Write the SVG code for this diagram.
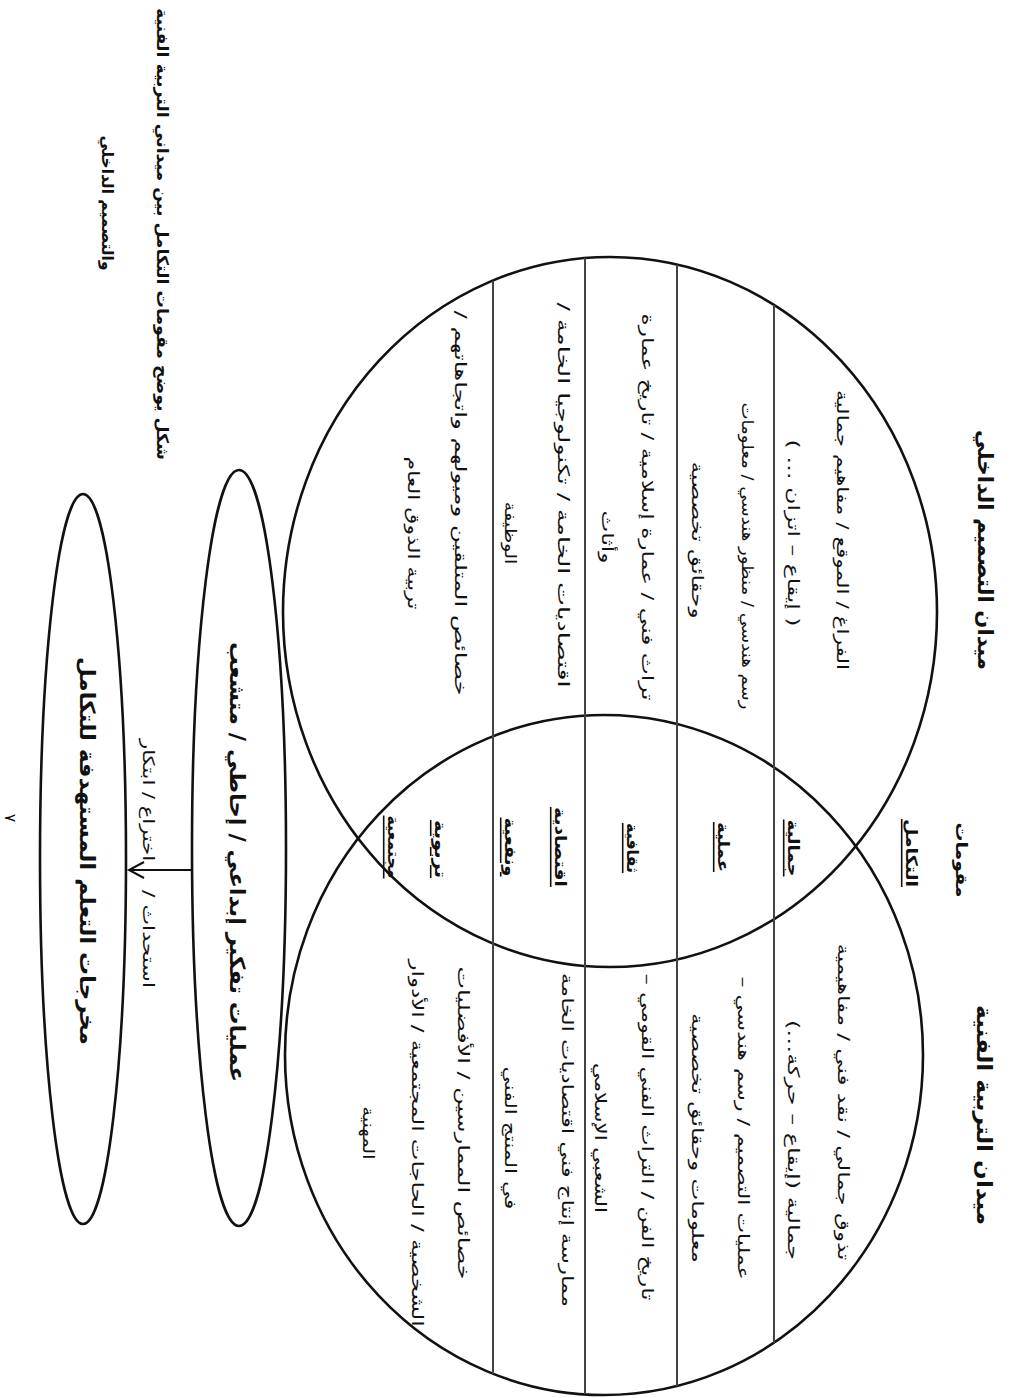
<svg xmlns="http://www.w3.org/2000/svg" width="1017" height="1398" viewBox="0 0 1017 1398">
<style>
.t{font-family:"DejaVu Sans",sans-serif;font-size:16px;fill:#111;direction:rtl}
.b{font-weight:bold}
.h{font-size:21px;font-weight:bold}
.u{text-decoration:underline}
.shape{fill:none;stroke:#111;stroke-width:2.6}
.row{stroke:#444;stroke-width:2}
.conn{fill:none;stroke:#111;stroke-width:2}
</style>
<rect width="1017" height="1398" fill="#fff"/>

<g id="caption">
<text class="t b" font-size="14" transform="translate(162,234) rotate(90)" text-anchor="middle" dominant-baseline="central" textLength="452" lengthAdjust="spacingAndGlyphs">شكل يوضح مقومات التكامل بين ميداني التربية الفنية</text>
<text class="t b" font-size="14" transform="translate(107,203) rotate(90)" text-anchor="middle" dominant-baseline="central" textLength="135" lengthAdjust="spacingAndGlyphs">والتصميم الداخلي</text>
</g>

<g id="interior-design-field">
<ellipse class="shape" cx="610" cy="612" rx="327" ry="355"/>
<text class="t h" transform="translate(985,550) rotate(90)" text-anchor="middle" dominant-baseline="central" textLength="240" lengthAdjust="spacingAndGlyphs">ميدان التصميم الداخلي</text>
<text class="t" transform="translate(842,530) rotate(90)" text-anchor="middle" dominant-baseline="central" textLength="280" lengthAdjust="spacingAndGlyphs">الفراغ / الموقع / مفاهيم جمالية</text>
<text class="t" transform="translate(793,533) rotate(90)" text-anchor="middle" dominant-baseline="central" textLength="187" lengthAdjust="spacingAndGlyphs">( إيقاع – اتزان … )</text>
<text class="t" transform="translate(747,556) rotate(90)" text-anchor="middle" dominant-baseline="central" textLength="307" lengthAdjust="spacingAndGlyphs">رسم هندسي / منظور هندسي / معلومات</text>
<text class="t" transform="translate(697,540) rotate(90)" text-anchor="middle" dominant-baseline="central" textLength="157" lengthAdjust="spacingAndGlyphs">وحقائق تخصصية</text>
<text class="t" transform="translate(647,507) rotate(90)" text-anchor="middle" dominant-baseline="central" textLength="387" lengthAdjust="spacingAndGlyphs">تراث فني / عمارة إسلامية / تاريخ عمارة</text>
<text class="t" transform="translate(607,537) rotate(90)" text-anchor="middle" dominant-baseline="central" textLength="53" lengthAdjust="spacingAndGlyphs">وأثاث</text>
<text class="t" transform="translate(563,495) rotate(90)" text-anchor="middle" dominant-baseline="central" textLength="385" lengthAdjust="spacingAndGlyphs">اقتصاديات الخامة / تكنولوجيا الخامة /</text>
<text class="t" transform="translate(510,533) rotate(90)" text-anchor="middle" dominant-baseline="central" textLength="63" lengthAdjust="spacingAndGlyphs">الوظيفة</text>
<text class="t" transform="translate(460,503) rotate(90)" text-anchor="middle" dominant-baseline="central" textLength="385" lengthAdjust="spacingAndGlyphs">خصائص المتلقين وميولهم واتجاهاتهم /</text>
<text class="t" transform="translate(413,533) rotate(90)" text-anchor="middle" dominant-baseline="central" textLength="153" lengthAdjust="spacingAndGlyphs">تربية الذوق العام</text>
</g>

<g id="art-education-field">
<ellipse class="shape" cx="604" cy="1055" rx="319" ry="340"/>
<text class="t h" transform="translate(984,1115) rotate(90)" text-anchor="middle" dominant-baseline="central" textLength="220" lengthAdjust="spacingAndGlyphs">ميدان التربية الفنية</text>
<text class="t" transform="translate(843,1102) rotate(90)" text-anchor="middle" dominant-baseline="central" textLength="317" lengthAdjust="spacingAndGlyphs">تذوق جمالي / نقد فني / مفاهيمية</text>
<text class="t" transform="translate(793,1140) rotate(90)" text-anchor="middle" dominant-baseline="central" textLength="240" lengthAdjust="spacingAndGlyphs">جمالية (إيقاع – حركة…)</text>
<text class="t" transform="translate(743,1128) rotate(90)" text-anchor="middle" dominant-baseline="central" textLength="303" lengthAdjust="spacingAndGlyphs">عمليات التصميم / رسم هندسي –</text>
<text class="t" transform="translate(697,1138) rotate(90)" text-anchor="middle" dominant-baseline="central" textLength="250" lengthAdjust="spacingAndGlyphs">معلومات وحقائق تخصصية</text>
<text class="t" transform="translate(647,1137) rotate(90)" text-anchor="middle" dominant-baseline="central" textLength="327" lengthAdjust="spacingAndGlyphs">تاريخ الفن / التراث الفني القومي –</text>
<text class="t" transform="translate(600,1138) rotate(90)" text-anchor="middle" dominant-baseline="central" textLength="150" lengthAdjust="spacingAndGlyphs">الشعبي الإسلامي</text>
<text class="t" transform="translate(567,1140) rotate(90)" text-anchor="middle" dominant-baseline="central" textLength="334" lengthAdjust="spacingAndGlyphs">ممارسة إنتاج فني اقتصاديات الخامة</text>
<text class="t" transform="translate(510,1138) rotate(90)" text-anchor="middle" dominant-baseline="central" textLength="143" lengthAdjust="spacingAndGlyphs">في المنتج الفني</text>
<text class="t" transform="translate(463,1123) rotate(90)" text-anchor="middle" dominant-baseline="central" textLength="313" lengthAdjust="spacingAndGlyphs">خصائص الممارسين / الأفضليات</text>
<text class="t" transform="translate(417,1143) rotate(90)" text-anchor="middle" dominant-baseline="central" textLength="367" lengthAdjust="spacingAndGlyphs">الشخصية / الحاجات المجتمعية / الأدوار</text>
<text class="t" transform="translate(368,1133) rotate(90)" text-anchor="middle" dominant-baseline="central" textLength="53" lengthAdjust="spacingAndGlyphs">المهنية</text>
</g>

<g id="integration-components">
<line class="row" x1="493" y1="281" x2="493" y2="1374"/>
<line class="row" x1="585" y1="258" x2="585" y2="1394"/>
<line class="row" x1="677" y1="265" x2="677" y2="1386"/>
<line class="row" x1="774" y1="305" x2="774" y2="1343"/>
<text class="t b" font-size="17" transform="translate(961,860) rotate(90)" text-anchor="middle" dominant-baseline="central" textLength="75" lengthAdjust="spacingAndGlyphs">مقومات</text>
<text class="t b u" font-size="17" transform="translate(911,853) rotate(90)" text-anchor="middle" dominant-baseline="central" textLength="68" lengthAdjust="spacingAndGlyphs">التكامل</text>
<text class="t b u" font-size="17" transform="translate(793,848) rotate(90)" text-anchor="middle" dominant-baseline="central" textLength="57" lengthAdjust="spacingAndGlyphs">جمالية</text>
<text class="t b u" font-size="17" transform="translate(723,847) rotate(90)" text-anchor="middle" dominant-baseline="central" textLength="50" lengthAdjust="spacingAndGlyphs">عملية</text>
<text class="t b u" font-size="17" transform="translate(632,848) rotate(90)" text-anchor="middle" dominant-baseline="central" textLength="50" lengthAdjust="spacingAndGlyphs">ثقافية</text>
<text class="t b u" font-size="17" transform="translate(560,847) rotate(90)" text-anchor="middle" dominant-baseline="central" textLength="80" lengthAdjust="spacingAndGlyphs">اقتصادية</text>
<text class="t b u" font-size="17" transform="translate(510,847) rotate(90)" text-anchor="middle" dominant-baseline="central" textLength="59" lengthAdjust="spacingAndGlyphs">ونفعية</text>
<text class="t b u" font-size="17" transform="translate(440,849) rotate(90)" text-anchor="middle" dominant-baseline="central" textLength="58" lengthAdjust="spacingAndGlyphs">تربوية</text>
<text class="t b u" font-size="17" transform="translate(393,847) rotate(90)" text-anchor="middle" dominant-baseline="central" textLength="63" lengthAdjust="spacingAndGlyphs">مجتمعية</text>
</g>

<g id="thinking-processes">
<ellipse class="shape" cx="239" cy="848" rx="47" ry="378"/>
<text class="t h" transform="translate(237,862) rotate(90)" text-anchor="middle" dominant-baseline="central" textLength="440" lengthAdjust="spacingAndGlyphs">عمليات تفكير إبداعي / إحاطي / متشعب</text>
</g>

<g id="learning-outcomes">
<ellipse class="shape" cx="83" cy="859" rx="43" ry="365"/>
<text class="t h" transform="translate(87,851) rotate(90)" text-anchor="middle" dominant-baseline="central" textLength="388" lengthAdjust="spacingAndGlyphs">مخرجات التعلم المستهدفة للتكامل</text>
</g>

<g id="connectors">
<line class="conn" x1="192" y1="870" x2="130" y2="870"/>
<polyline class="conn" points="144,862 129,870 144,878"/>
<text class="t" font-size="15" transform="translate(148,800) rotate(90)" text-anchor="middle" dominant-baseline="central" textLength="122" lengthAdjust="spacingAndGlyphs">اختراع / ابتكار</text>
<text class="t" font-size="15" transform="translate(148,939) rotate(90)" text-anchor="middle" dominant-baseline="central" textLength="98" lengthAdjust="spacingAndGlyphs">استحداث /</text>
</g>

<text class="t" font-size="11" transform="translate(10,818) rotate(90)" text-anchor="middle" dominant-baseline="central">٧</text>
</svg>
